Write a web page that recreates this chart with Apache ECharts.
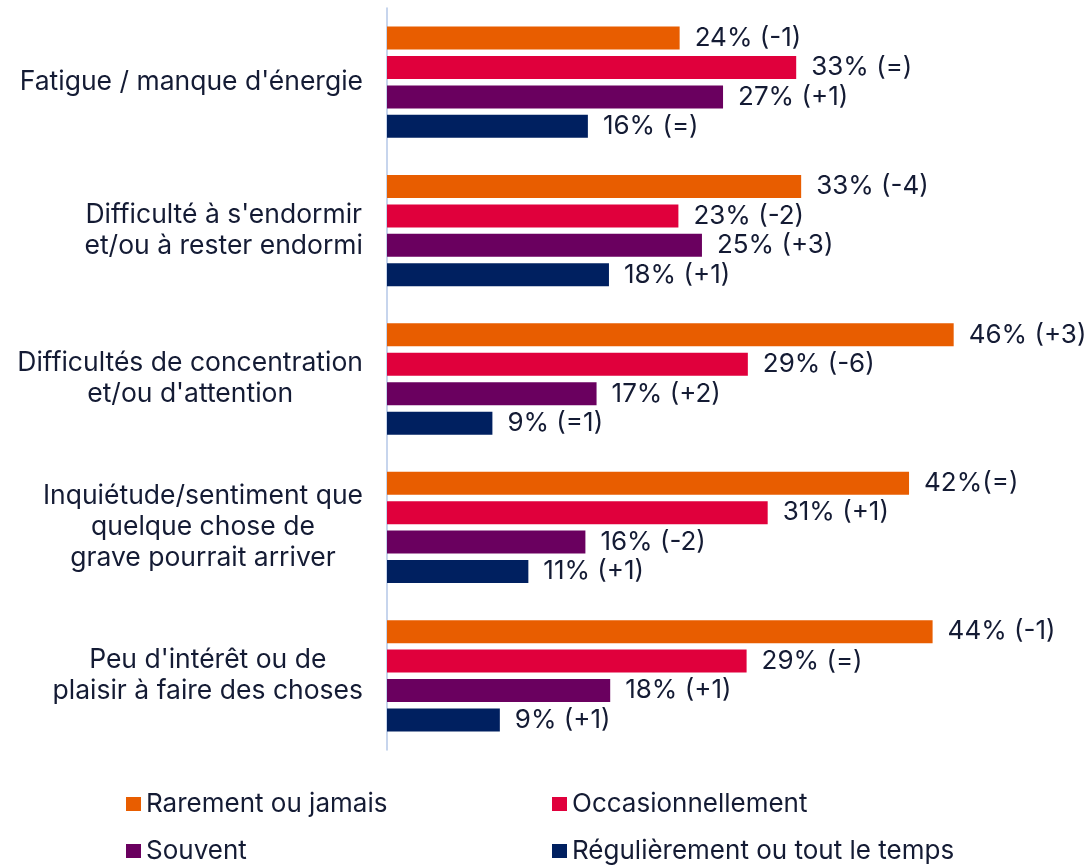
<!DOCTYPE html>
<html>
<head>
<meta charset="utf-8">
<script src="https://cdn.jsdelivr.net/npm/echarts@6/dist/echarts.min.js"></script>
<style>
  html, body { margin: 0; padding: 0; background: #fff; }
  #chart { width: 1084px; height: 865px; }
</style>
</head>
<body>
<div id="chart"></div>
<script>
// categories (each line of a label as its own string)
let categories = [
    ["Fatigue / manque d'énergie"],
    ["Difficulté à s'endormir", "et/ou à rester endormi"],
    ["Difficultés de concentration", "et/ou d'attention"],
    ["Inquiétude/sentiment que", "quelque chose de", "grave pourrait arriver"],
    ["Peu d'intérêt ou de", "plaisir à faire des choses"]
]
let seriesNames = ['Rarement ou jamais', 'Occasionnellement', 'Souvent', 'Régulièrement ou tout le temps']
let seriesColors = ['#E85D00', '#E0003C', '#6A005F', '#002060']

let rarement = [23.6, 33.4, 45.7, 42.1, 44.0]
let occasion = [33.0, 23.5, 29.1, 30.7, 29.0]
let souvent = [27.1, 25.4, 16.9, 16.0, 18.0]
let regulier = [16.2, 17.9, 8.5, 11.4, 9.1]

// étiquettes affichées (avec évolution)
let rarementLbl = ['24% (-1)', '33% (-4)', '46% (+3)', '42%(=)', '44% (-1)']
let occasionLbl = ['33% (=)', '23% (-2)', '29% (-6)', '31% (+1)', '29% (=)']
let souventLbl = ['27% (+1)', '25% (+3)', '17% (+2)', '16% (-2)', '18% (+1)']
let regulierLbl = ['16% (=)', '18% (+1)', '9% (=1)', '11% (+1)', '9% (+1)']

let values = [rarement, occasion, souvent, regulier]
let labels = [rarementLbl, occasionLbl, souventLbl, regulierLbl]

let textColor = '#141B34'
let fontFamily = 'Inter, "Noto Sans", sans-serif'

let myChart = echarts.init(document.getElementById('chart'), null, { renderer: 'canvas' })

let series = []
for (let i = 0; i < seriesNames.length; i++) {
    series.push({
        name: seriesNames[i],
        type: 'bar',
        data: values[i],
        barWidth: 23,
        barGap: '28%',
        itemStyle: { color: seriesColors[i] },
        label: {
            show: true,
            position: 'right',
            distance: 15,
            color: textColor,
            fontSize: 26,
            fontFamily: fontFamily,
            formatter: function (p) {
                return labels[i][p.dataIndex]
            }
        }
    })
}

// légende en 2 colonnes : une légende par entrée
let legendPos = [[126, 791], [552, 791], [126, 838], [552, 838]]
let legends = []
for (let i = 0; i < seriesNames.length; i++) {
    legends.push({
        data: [seriesNames[i]],
        left: legendPos[i][0],
        top: legendPos[i][1],
        padding: 0,
        icon: 'rect',
        itemWidth: 15,
        itemHeight: 14,
        itemGap: 0,
        selectedMode: false,
        textStyle: {
            color: textColor,
            fontSize: 26,
            fontFamily: fontFamily
        }
    })
}

let option = {
    backgroundColor: '#fff',
    animation: false,
    grid: {
        left: 387,
        right: 77,
        top: 8,
        bottom: 115,
        containLabel: false
    },
    legend: legends,
    xAxis: {
        type: 'value',
        min: 0,
        max: 50,
        show: false
    },
    yAxis: {
        type: 'category',
        inverse: true,
        data: categories.map(function (c) { return c.join('\n') }),
        axisLine: { show: true, lineStyle: { color: '#B4C7E7', width: 1.5 } },
        axisTick: { show: false },
        axisLabel: {
            margin: 24,
            color: textColor,
            fontSize: 26.5,
            fontFamily: fontFamily,
            lineHeight: 31,
            formatter: function (v) {
                return v.split('\n').map(function (s) { return '{c|' + s + '}' }).join('\n')
            },
            rich: {
                c: {
                    align: 'center',
                    color: textColor,
                    fontSize: 26.5,
                    fontFamily: fontFamily,
                    lineHeight: 31
                }
            }
        }
    },
    series: series
}

myChart.setOption(option)
</script>
</body>
</html>
